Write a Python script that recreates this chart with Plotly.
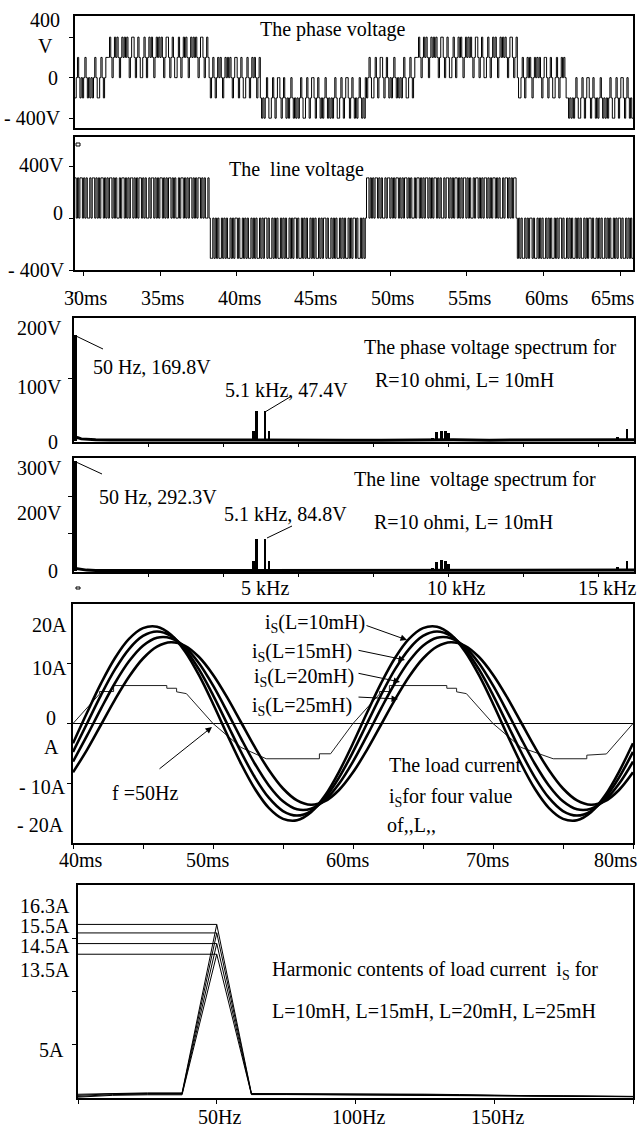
import plotly.graph_objects as go

W, H = 641, 1128
FONT = "Liberation Serif"

# ---------------- data ----------------
# Panel 1: phase voltage (PWM segments, time in ms)
PH_SEG_START = [29.46, 31.63, 38.28, 41.54, 48.38, 51.77, 58.29, 61.55]
PH_SEG_END = [31.63, 38.28, 41.54, 48.38, 51.77, 58.29, 61.55, 65.83]
PH_SEG_OUTER = [-200, 400, 200, -400, -200, 400, 200, -400]
PH_SEG_MID = [0, 200, 0, -200, 0, 200, 0, -200]
PH_SEG_INNER = [200, 0, -200, 0, 200, 0, -200, 0]
PH_PATTERN = [2, 1, 0, 1, 2, 1, 2, 1, 0, 1, 2, 1, 2, 1, 2, 1, 0, 1, 2, 2, 1, 0, 1, 2, 1, 0, 0, 1]
# Panel 2: line voltage
LN_SEG_START = [29.46, 38.28, 48.38, 58.29]
LN_SEG_END = [38.28, 48.38, 58.29, 65.83]
LN_SEG_LEVEL = [310, -310, 310, -310]
LN_PATTERN = [1, 0, 1, 0, 1, 1, 0, 1, 0, 1, 0, 0, 1, 0, 1, 1, 0, 1, 0, 1, 0, 1, 1, 0]
PWM_STEP_MS = 0.08
TIME_TICKS = [30, 35, 40, 45, 50, 55, 60, 65]
TIME_LABELS = ["3\u03080ms", "35ms", "40ms", "45ms", "50ms", "55ms", "60ms", "65ms"]

# Panels 3/4: spectra (kHz, V)
BASE_F = [0.0, 0.1, 0.2, 0.35, 0.6, 1.0, 2.0, 3.0, 4.0, 4.9, 5.5, 6.5, 7.5, 8.5, 9.5, 10.5, 11.5, 12.5, 13.5, 14.5, 15.52]
PH_BASE_V = [3, 5, 3, 2, 1.5, 1.2, 1, 1, 1, 1.5, 1.5, 1, 1, 1, 1.5, 1.5, 1, 1, 1, 1.2, 1.5]
LN_BASE_V = [8, 6, 4, 3, 2, 2, 2, 2, 2, 2.5, 2.5, 2, 2, 2, 2.5, 2.5, 2, 2, 2, 2.5, 3]
SPK_F = [0.05, 4.96, 5.06, 5.29, 5.40, 9.93, 10.04, 10.17, 10.29, 10.36, 15.05, 15.31]
PH_SPK_V = [169.8, 15, 47.4, 47.4, 15, 4, 14, 16, 15, 12, 6, 19]
LN_SPK_V = [292.3, 28, 84.8, 84.8, 28, 8, 25, 30, 28, 20, 10, 28]

# Panel 5: load current (ms, A)
CUR_T = list(range(40, 81))
I_L10 = [-3.31, 1.79, 6.71, 10.97, 14.16, 15.96, 16.20, 14.86, 12.06, 8.08, 3.31,
         -1.79, -6.71, -10.97, -14.16, -15.96, -16.20, -14.86, -12.06, -8.08, -3.31,
         1.79, 6.71, 10.97, 14.16, 15.96, 16.20, 14.86, 12.06, 8.08, 3.31,
         -1.79, -6.71, -10.97, -14.16, -15.96, -16.20, -14.86, -12.06, -8.08, -3.31]
I_L15 = [-4.76, 0.00, 4.76, 9.05, 12.46, 14.65, 15.40, 14.65, 12.46, 9.05, 4.76,
         0.00, -4.76, -9.05, -12.46, -14.65, -15.40, -14.65, -12.46, -9.05, -4.76,
         0.00, 4.76, 9.05, 12.46, 14.65, 15.40, 14.65, 12.46, 9.05, 4.76,
         0.00, -4.76, -9.05, -12.46, -14.65, -15.40, -14.65, -12.46, -9.05, -4.76]
I_L20 = [-6.38, -2.04, 2.49, 6.78, 10.41, 13.02, 14.36, 14.28, 12.82, 10.09, 6.38,
         2.04, -2.49, -6.78, -10.41, -13.02, -14.36, -14.28, -12.82, -10.09, -6.38,
         -2.04, 2.49, 6.78, 10.41, 13.02, 14.36, 14.28, 12.82, 10.09, 6.38,
         2.04, -2.49, -6.78, -10.41, -13.02, -14.36, -14.28, -12.82, -10.09, -6.38]
I_L25 = [-8.17, -4.41, -0.21, 4.00, 7.82, 10.88, 12.87, 13.60, 13.00, 11.13, 8.17,
         4.41, 0.21, -4.00, -7.82, -10.88, -12.87, -13.60, -13.00, -11.13, -8.17,
         -4.41, -0.21, 4.00, 7.82, 10.88, 12.87, 13.60, 13.00, 11.13, 8.17,
         4.41, 0.21, -4.00, -7.82, -10.88, -12.87, -13.60, -13.00, -11.13, -8.17]
ST_T = [40.0, 41.0, 41.9, 41.9, 42.9, 42.9, 46.7, 46.7, 47.4, 47.4, 48.1, 50.0, 52.0, 53.8,
        57.6, 57.6, 58.4, 60.0, 61.0, 61.9, 61.9, 62.6, 62.6, 66.7, 66.7, 67.4, 67.4, 68.1,
        70.0, 72.0, 74.3, 76.7, 76.7, 78.1, 80.0]
ST_V = [0, 2.7, 4.95, 5.35, 5.35, 6.35, 6.35, 5.9, 5.9, 5.3, 5.0, 0, -4.0, -5.9,
        -5.9, -5.07, -5.07, 0, 2.7, 4.95, 5.35, 5.35, 6.35, 6.35, 5.9, 5.9, 5.3, 5.0,
        0, -4.0, -5.9, -5.9, -5.3, -5.1, 0]
CUR_TICKS = [40, 45, 50, 55, 60, 65, 70, 75, 80]
CUR_LABELS = {40: "40ms", 50: "50ms", 60: "60ms", 70: "70ms", 80: "80ms"}

# Panel 6: harmonic contents (Hz, A)
HF = [0, 12.5, 25, 37.5, 50, 62.5, 75, 87.5, 100, 112.5, 125, 137.5, 150, 162.5, 175, 187.5, 200]
H_L10 = [0.35, 0.45, 0.48, 0.48, 16.3, 0.42, 0.42, 0.40, 0.40, 0.38, 0.36, 0.32, 0.25, 0.22, 0.20, 0.18, 0.15]
H_L15 = [0.25, 0.40, 0.42, 0.42, 15.5, 0.38, 0.38, 0.37, 0.36, 0.34, 0.32, 0.30, 0.24, 0.20, 0.18, 0.16, 0.14]
H_L20 = [0.15, 0.32, 0.36, 0.36, 14.5, 0.35, 0.35, 0.34, 0.33, 0.32, 0.30, 0.28, 0.22, 0.19, 0.17, 0.15, 0.13]
H_L25 = [0.08, 0.25, 0.30, 0.30, 13.5, 0.32, 0.32, 0.31, 0.30, 0.30, 0.28, 0.26, 0.20, 0.18, 0.16, 0.14, 0.12]
H_PEAK_LABELS = ["16.3A", "15.5A", "14.5A", "13.5A"]


def pwm(starts, ends, level_sets, pattern, step):
    xs, ys = [], []
    k = 0
    for t0, t1, levels in zip(starts, ends, level_sets):
        n = max(1, int(round((t1 - t0) / step)))
        dt = (t1 - t0) / n
        for i in range(n):
            xs.append(t0 + i * dt)
            ys.append(levels[pattern[k % len(pattern)]])
            k += 1
    xs.append(ends[-1])
    ys.append(ys[-1])
    return xs, ys


fig = go.Figure()

# panel 1
ph_levels = list(zip(PH_SEG_INNER, PH_SEG_MID, PH_SEG_OUTER))
px_, py_ = pwm(PH_SEG_START, PH_SEG_END, ph_levels, PH_PATTERN, PWM_STEP_MS)
fig.add_trace(go.Scatter(x=px_, y=py_, mode="lines", line=dict(color="black", width=1, shape="hv"),
                         xaxis="x", yaxis="y", hoverinfo="skip"))
# panel 2
ln_levels = [(0, lv) for lv in LN_SEG_LEVEL]
lx_, ly_ = pwm(LN_SEG_START, LN_SEG_END, ln_levels, LN_PATTERN, PWM_STEP_MS)
fig.add_trace(go.Scatter(x=lx_, y=ly_, mode="lines", line=dict(color="black", width=1, shape="hv"),
                         xaxis="x2", yaxis="y2", hoverinfo="skip"))
# panel 3
fig.add_trace(go.Scatter(x=BASE_F, y=PH_BASE_V, mode="lines", line=dict(color="black", width=3),
                         xaxis="x3", yaxis="y3", hoverinfo="skip"))
fig.add_trace(go.Bar(x=SPK_F, y=PH_SPK_V, width=0.075, marker=dict(color="black", line=dict(width=0)),
                     xaxis="x3", yaxis="y3", hoverinfo="skip"))
# panel 4
fig.add_trace(go.Scatter(x=BASE_F, y=LN_BASE_V, mode="lines", line=dict(color="black", width=3),
                         xaxis="x4", yaxis="y4", hoverinfo="skip"))
fig.add_trace(go.Bar(x=SPK_F, y=LN_SPK_V, width=0.075, marker=dict(color="black", line=dict(width=0)),
                     xaxis="x4", yaxis="y4", hoverinfo="skip"))
# panel 5
fig.add_trace(go.Scatter(x=ST_T, y=ST_V, mode="lines", line=dict(color="#222", width=1),
                         xaxis="x5", yaxis="y5", hoverinfo="skip"))
for cur in (I_L10, I_L15, I_L20, I_L25):
    fig.add_trace(go.Scatter(x=CUR_T, y=cur, mode="lines",
                             line=dict(color="black", width=2.6, shape="spline", smoothing=1.0),
                             xaxis="x5", yaxis="y5", hoverinfo="skip"))
# panel 6
for h in (H_L10, H_L15, H_L20, H_L25):
    fig.add_trace(go.Scatter(x=HF, y=h, mode="lines", line=dict(color="black", width=1),
                             xaxis="x6", yaxis="y6", hoverinfo="skip"))
    peak = max(h)
    fig.add_trace(go.Scatter(x=[HF[0], HF[h.index(peak)]], y=[peak, peak], mode="lines",
                             line=dict(color="black", width=1), xaxis="x6", yaxis="y6", hoverinfo="skip"))


def dom_x(a, b):
    return [a / W, b / W]


def dom_y(top, bottom):
    return [1 - bottom / H, 1 - top / H]


base_ax = dict(showgrid=False, zeroline=False, showline=True, linecolor="black", linewidth=1.5,
               mirror=True, showticklabels=False, ticks="outside", ticklen=4, tickwidth=1.2,
               tickcolor="black", fixedrange=True)

SPEC_TICKS = [2.075 * k for k in range(1, 8)]

layout_axes = dict(
    xaxis=dict(base_ax, domain=dom_x(75, 633), range=[29.46, 65.83], anchor="y", ticks=""),
    yaxis=dict(base_ax, domain=dom_y(16, 128), range=[-497, 609], anchor="x", tickvals=[-400, 0, 400]),
    xaxis2=dict(base_ax, domain=dom_x(75, 633), range=[29.46, 65.83], anchor="y2", tickvals=TIME_TICKS),
    yaxis2=dict(base_ax, domain=dom_y(137, 270), range=[-400, 625], anchor="x2", tickvals=[-400, 0, 400]),
    xaxis3=dict(base_ax, domain=dom_x(74, 634), range=[0, 15.5], anchor="y3", tickvals=SPEC_TICKS, ticklen=3),
    yaxis3=dict(base_ax, domain=dom_y(318, 442), range=[-2, 197], anchor="x3", tickvals=[100]),
    xaxis4=dict(base_ax, domain=dom_x(74, 634), range=[0, 15.5], anchor="y4", tickvals=SPEC_TICKS, ticklen=3),
    yaxis4=dict(base_ax, domain=dom_y(458, 572), range=[-2, 301], anchor="x4", tickvals=[100, 200]),
    xaxis5=dict(base_ax, domain=dom_x(73, 633), range=[40, 80], anchor="y5", tickvals=CUR_TICKS),
    yaxis5=dict(base_ax, domain=dom_y(604, 843), range=[-20, 20], anchor="x5", tickvals=[-10, 0, 10],
                zeroline=True, zerolinecolor="black", zerolinewidth=1),
    xaxis6=dict(base_ax, domain=dom_x(78, 633), range=[0, 200], anchor="y6", tickvals=[0, 50, 100, 150, 200]),
    yaxis6=dict(base_ax, domain=dom_y(885, 1098), range=[0, 20], anchor="x6", tickvals=[5, 10, 15]),
)

ann = []
shapes = []


def txt(s, px, py, anchor="left", size=20):
    ann.append(dict(text=s, x=px / W, y=1 - py / H, xref="paper", yref="paper", xanchor=anchor,
                    yanchor="middle", showarrow=False, font=dict(family=FONT, size=size, color="black")))


def arrow(x0, y0, x1, y1):
    ann.append(dict(text="", x=x1 / W, y=1 - y1 / H, xref="paper", yref="paper", ax=x0 - x1, ay=y0 - y1,
                    axref="pixel", ayref="pixel", showarrow=True, arrowhead=2, arrowsize=1.3,
                    arrowwidth=1, arrowcolor="black", standoff=0, startstandoff=0))


def leader(x0, y0, x1, y1):
    shapes.append(dict(type="line", xref="paper", yref="paper", x0=x0 / W, y0=1 - y0 / H,
                       x1=x1 / W, y1=1 - y1 / H, line=dict(color="black", width=1)))


# panel 1
txt("400", 62, 20, "right")
txt("V", 45, 46, "center")
txt("0", 53, 78, "center")
txt("- 400V", 63, 118, "right")
txt("The phase voltage", 258, 30)
# panel 2
txt("400V", 66, 165, "right")
txt("0", 58, 213, "center")
txt("- 400V", 67, 270, "right")
txt("The\u00a0 line voltage", 227, 170)
for t, lab in zip(TIME_TICKS, TIME_LABELS):
    xpx = 75 + (t - 29.46) / (65.83 - 29.46) * (633 - 75)
    if t == 65:
        txt(lab, 637, 298, "right")
    else:
        txt(lab, xpx + 3, 298, "center")
# panel 3
txt("200V", 64, 328, "right")
txt("100V", 64, 387, "right")
txt("0", 53, 442, "center")
txt("50 Hz, 169.8V", 91, 367)
txt("5.1 kHz, 47.4V", 223, 390)
txt("The phase voltage spectrum for", 362, 347)
txt("R=10 ohmi, L= 10mH", 373, 380)
leader(103, 349, 76, 336)
leader(290, 397, 265, 412)
# panel 4
txt("300V", 64, 468, "right")
txt("200V", 64, 513, "right")
txt("0", 53, 571, "center")
txt("50 Hz, 292.3V", 97, 497)
txt("5.1 kHz, 84.8V", 222, 514)
txt("The line\u00a0 voltage spectrum for", 352, 480)
txt("R=10 ohmi, L= 10mH", 372, 522)
leader(102, 474, 76, 462)
leader(292, 526, 267, 538)
txt("5 kHz", 265, 588, "center")
txt("10 kHz", 456, 588, "center")
txt("15 kHz", 638, 588, "right")
# panel 5
txt("20A", 69, 625, "right")
txt("10A", 69, 668, "right")
txt("0", 51, 718, "center")
txt("A", 51, 747, "center")
txt("- 10A", 68, 787, "right")
txt("- 20A", 66, 825, "right")
for t in CUR_TICKS:
    if t in CUR_LABELS:
        xpx = 73 + (t - 40) / 40 * (633 - 73)
        if t == 80:
            txt(CUR_LABELS[t], 640, 860, "right")
        elif t == 40:
            txt(CUR_LABELS[t], xpx + 8, 860, "center")
        else:
            txt(CUR_LABELS[t], xpx - 5, 860, "center")
txt("i<sub>S</sub>(L=10mH)", 263, 623)
arrow(365, 625, 407, 640)
txt("i<sub>S</sub>(L=15mH)", 250, 652)
arrow(357, 650, 405, 660)
txt("i<sub>S</sub>(L=20mH)", 252, 677)
arrow(357, 673, 400, 682)
txt("i<sub>S</sub>(L=25mH)", 250, 706)
arrow(357, 697, 398, 699)
txt("f =50Hz", 110, 793)
arrow(158, 770, 212, 727)
txt("The load current", 387, 765)
txt("i<sub>S</sub>for four value", 387, 797)
txt("of,,L,,", 385, 825)
# panel 6
for lab, ypx in zip(H_PEAK_LABELS, [906, 926, 946, 970]):
    txt(lab, 72, ypx, "right")
txt("5A", 66, 1050, "right")
for f, lab in [(50, "50Hz"), (100, "100Hz"), (150, "150Hz")]:
    xpx = 78 + f / 200 * (633 - 78)
    txt(lab, xpx + 3, 1117, "center")
txt("Harmonic contents of load current\u00a0 i<sub>S</sub> for", 270, 970)
txt("L=10mH, L=15mH, L=20mH, L=25mH", 270, 1011)

shapes += [
    dict(type="rect", xref="paper", yref="paper", x0=76 / W, x1=80 / W, y0=1 - 146 / H, y1=1 - 143 / H,
         line=dict(color="black", width=1), fillcolor="white"),
    dict(type="rect", xref="paper", yref="paper", x0=76 / W, x1=80 / W, y0=1 - 589 / H, y1=1 - 587 / H,
         line=dict(color="black", width=1), fillcolor="white"),
]

fig.update_layout(
    width=W, height=H, margin=dict(l=0, r=0, t=0, b=0, pad=0),
    paper_bgcolor="white", plot_bgcolor="white", showlegend=False,
    font=dict(family=FONT, size=20, color="black"),
    annotations=ann, shapes=shapes, bargap=0,
    **layout_axes,
)

fig.write_html("out.html", config={"displayModeBar": False})
